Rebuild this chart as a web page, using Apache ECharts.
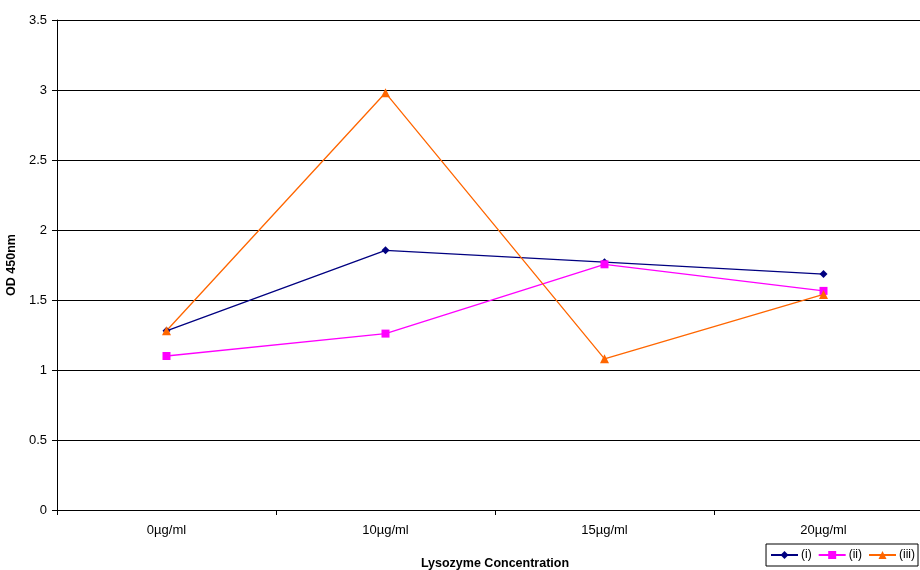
<!DOCTYPE html>
<html>
<head>
<meta charset="utf-8">
<script src="https://cdn.jsdelivr.net/npm/echarts@6/dist/echarts.min.js"></script>
<style>
  html, body { margin: 0; padding: 0; background: #fff; }
  #chart { width: 920px; height: 570px; }
</style>
</head>
<body>
<div id="chart"></div>
<script>
// Lysozyme concentrations tested
const categories = ['0µg/ml', '10µg/ml', '15µg/ml', '20µg/ml'];
// OD 450nm readings for each replicate
const seriesI = [1.28, 1.855, 1.77, 1.685];
const seriesII = [1.10, 1.26, 1.755, 1.565];
const seriesIII = [1.28, 2.98, 1.08, 1.54];
const seriesNames = ['(i)', '(ii)', '(iii)'];
const yTicks = { min: 0, max: 3.5, interval: 0.5 };

const font = 'Liberation Sans, Arial, sans-serif';

function lineSeries(name, data, color, symbol, size) {
  return {
    name: name,
    type: 'line',
    data: data,
    symbol: symbol,
    symbolSize: size,
    lineStyle: { color: color, width: 1.3 },
    itemStyle: { color: color },
    emphasis: { disabled: true },
    animation: false
  };
}

const chart = echarts.init(document.getElementById('chart'), null, { renderer: 'canvas' });
chart.setOption({
  backgroundColor: '#ffffff',
  animation: false,
  grid: { left: 57, top: 20, right: -13, bottom: 60, containLabel: false, outerBoundsMode: 'none' },
  legend: {
    data: seriesNames,
    right: 2,
    top: 544,
    itemGap: 6,
    itemWidth: 27,
    itemHeight: 10,
    padding: [5, 3, 5, 4],
    borderColor: '#000',
    borderWidth: 1,
    borderRadius: 0,
    textStyle: { fontFamily: font, fontSize: 12, color: '#000', padding: [0, 0, 0, -2] }
  },
  xAxis: {
    type: 'category',
    data: categories,
    boundaryGap: true,
    name: 'Lysozyme Concentration',
    nameLocation: 'middle',
    nameGap: 47,
    nameTextStyle: { fontFamily: font, fontSize: 12.5, fontWeight: 'bold', color: '#000' },
    axisLine: { lineStyle: { color: '#000', width: 1 } },
    axisTick: { show: true, inside: false, length: 5, alignWithLabel: false, lineStyle: { color: '#000' } },
    axisLabel: { fontFamily: font, fontSize: 13, color: '#000', margin: 14 },
    splitLine: { show: false }
  },
  yAxis: {
    type: 'value',
    min: yTicks.min,
    max: yTicks.max,
    interval: yTicks.interval,
    name: 'OD 450nm',
    nameLocation: 'middle',
    nameGap: 35,
    nameTextStyle: { fontFamily: font, fontSize: 12.5, fontWeight: 'bold', color: '#000' },
    axisLine: { show: true, lineStyle: { color: '#000', width: 1 } },
    axisTick: { show: true, inside: false, length: 5, lineStyle: { color: '#000' } },
    axisLabel: { fontFamily: font, fontSize: 13, color: '#000', margin: 10 },
    splitLine: { show: true, lineStyle: { color: '#000', width: 1 } }
  },
  series: [
    lineSeries(seriesNames[0], seriesI, '#000080', 'diamond', 8),
    lineSeries(seriesNames[1], seriesII, '#ff00ff', 'rect', 8),
    lineSeries(seriesNames[2], seriesIII, '#ff6600', 'triangle', 9)
  ]
});
</script>
</body>
</html>
